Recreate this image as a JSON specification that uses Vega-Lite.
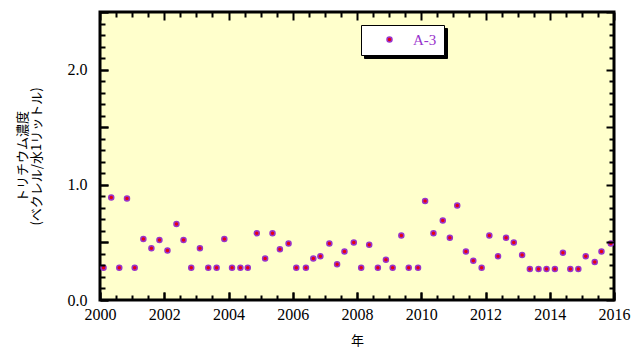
{
  "$schema": "https://vega.github.io/schema/vega-lite/v6.json",
  "width": 514,
  "height": 288,
  "autosize": {"type": "none"},
  "padding": {"left": 100, "top": 12, "right": 18, "bottom": 50},
  "background": "white",
  "config": {
    "view": {"fill": "#ffffcc", "stroke": "black", "strokeWidth": 3}
  },
  "data": {
    "values": [
      {"year": 2000.11, "conc": 0.28}, {"year": 2000.35, "conc": 0.89}, {"year": 2000.60, "conc": 0.28}, {"year": 2000.84, "conc": 0.88},
      {"year": 2001.08, "conc": 0.28}, {"year": 2001.35, "conc": 0.53}, {"year": 2001.60, "conc": 0.45}, {"year": 2001.85, "conc": 0.52},
      {"year": 2002.10, "conc": 0.43}, {"year": 2002.38, "conc": 0.66}, {"year": 2002.60, "conc": 0.52}, {"year": 2002.84, "conc": 0.28},
      {"year": 2003.11, "conc": 0.45}, {"year": 2003.37, "conc": 0.28}, {"year": 2003.63, "conc": 0.28}, {"year": 2003.87, "conc": 0.53},
      {"year": 2004.11, "conc": 0.28}, {"year": 2004.37, "conc": 0.28}, {"year": 2004.60, "conc": 0.28}, {"year": 2004.88, "conc": 0.58},
      {"year": 2005.14, "conc": 0.36}, {"year": 2005.37, "conc": 0.58}, {"year": 2005.60, "conc": 0.44}, {"year": 2005.87, "conc": 0.49},
      {"year": 2006.11, "conc": 0.28}, {"year": 2006.41, "conc": 0.28}, {"year": 2006.64, "conc": 0.36}, {"year": 2006.86, "conc": 0.38},
      {"year": 2007.14, "conc": 0.49}, {"year": 2007.38, "conc": 0.31}, {"year": 2007.61, "conc": 0.42}, {"year": 2007.90, "conc": 0.50},
      {"year": 2008.13, "conc": 0.28}, {"year": 2008.38, "conc": 0.48}, {"year": 2008.65, "conc": 0.28}, {"year": 2008.90, "conc": 0.35},
      {"year": 2009.11, "conc": 0.28}, {"year": 2009.38, "conc": 0.56}, {"year": 2009.61, "conc": 0.28}, {"year": 2009.90, "conc": 0.28},
      {"year": 2010.12, "conc": 0.86}, {"year": 2010.38, "conc": 0.58}, {"year": 2010.67, "conc": 0.69}, {"year": 2010.89, "conc": 0.54},
      {"year": 2011.12, "conc": 0.82}, {"year": 2011.39, "conc": 0.42}, {"year": 2011.62, "conc": 0.34}, {"year": 2011.88, "conc": 0.28},
      {"year": 2012.12, "conc": 0.56}, {"year": 2012.39, "conc": 0.38}, {"year": 2012.64, "conc": 0.54}, {"year": 2012.88, "conc": 0.50},
      {"year": 2013.14, "conc": 0.39}, {"year": 2013.38, "conc": 0.27}, {"year": 2013.65, "conc": 0.27}, {"year": 2013.90, "conc": 0.27},
      {"year": 2014.16, "conc": 0.27}, {"year": 2014.41, "conc": 0.41}, {"year": 2014.64, "conc": 0.27}, {"year": 2014.89, "conc": 0.27},
      {"year": 2015.12, "conc": 0.38}, {"year": 2015.40, "conc": 0.33}, {"year": 2015.61, "conc": 0.42}, {"year": 2015.90, "conc": 0.49}
    ]
  },
  "resolve": {"scale": {"x": "shared", "y": "shared"}, "axis": {"x": "independent", "y": "independent"}},
  "layer": [
    {
      "mark": {"type": "circle", "size": 25, "stroke": "#9933cc", "strokeWidth": 1.5, "opacity": 1},
      "encoding": {
        "x": {
          "field": "year",
          "type": "quantitative",
          "scale": {"domain": [2000, 2016], "nice": false, "zero": false},
          "axis": {
            "orient": "bottom",
            "zindex": 5,
            "values": [2000, 2002, 2004, 2006, 2008, 2010, 2012, 2014, 2016],
            "format": "d",
            "ticks": true,
            "tickSize": -8,
            "tickColor": "black",
            "tickWidth": 2,
            "domain": false,
            "grid": false,
            "labelOverlap": false,
            "labelBound": false,
            "labelFlush": false,
            "labelFont": "Liberation Serif",
            "labelFontSize": 16,
            "labelColor": "black",
            "labelPadding": 14,
            "title": "年",
            "titleFont": "Noto Sans CJK JP",
            "titleFontSize": 13,
            "titleFontWeight": "normal",
            "titleColor": "black",
            "titleBaseline": "middle",
            "titleY": 40
          }
        },
        "y": {
          "field": "conc",
          "type": "quantitative",
          "scale": {"domain": [0, 2.5], "nice": false, "zero": true},
          "axis": {
            "orient": "left",
            "zindex": 5,
            "values": [0, 0.5, 1, 1.5, 2, 2.5],
            "labelExpr": "abs(datum.value - round(datum.value)) < 0.001 && datum.value < 2.4 ? format(datum.value, '.1f') : ''",
            "ticks": true,
            "tickSize": -8,
            "tickColor": "black",
            "tickWidth": 2,
            "domain": false,
            "grid": false,
            "labelOverlap": false,
            "labelBound": false,
            "labelFlush": false,
            "labelFont": "Liberation Serif",
            "labelFontSize": 16,
            "labelColor": "black",
            "labelPadding": 21,
            "title": ["トリチウム濃度", "(ベクレル/水1リットル)"],
            "titleFont": "Noto Sans CJK JP",
            "titleFontSize": 13,
            "titleFontWeight": "normal",
            "titleColor": "black",
            "titleAngle": 270,
            "titleBaseline": "middle",
            "titleAlign": "center",
            "titleLineHeight": 14,
            "titleX": -78,
            "titleY": 144
          }
        },
        "fill": {
          "datum": "A-3",
          "type": "nominal",
          "scale": {"range": ["#e60012"]},
          "legend": {
            "title": null,
            "orient": "none",
            "legendX": 261,
            "legendY": 13,
            "zindex": 7,
            "fillColor": "white",
            "strokeColor": "black",
            "padding": 7,
            "symbolOffset": 14,
            "labelOffset": 16,
            "symbolType": "circle",
            "symbolSize": 25,
            "symbolStrokeColor": "#9933cc",
            "symbolStrokeWidth": 1.5,
            "labelFont": "Liberation Serif",
            "labelFontSize": 15,
            "labelColor": "#9933cc",
            "encode": {"legend": {"update": {"strokeWidth": {"value": 1.5}}}}
          }
        }
      }
    },
    {
      "mark": {"type": "point", "size": 25, "opacity": 0},
      "encoding": {
        "x": {
          "field": "year",
          "type": "quantitative",
          "axis": {
            "orient": "top", "offset": -288, "zindex": 5,
            "values": [2000, 2002, 2004, 2006, 2008, 2010, 2012, 2014, 2016],
            "labels": false, "ticks": true, "tickSize": 8, "tickColor": "black", "tickWidth": 2,
            "domain": false, "grid": false, "title": null
          }
        },
        "y": {
          "field": "conc",
          "type": "quantitative",
          "axis": {
            "orient": "right", "offset": -514, "zindex": 5,
            "values": [0, 0.5, 1, 1.5, 2, 2.5],
            "labels": false, "ticks": true, "tickSize": 8, "tickColor": "black", "tickWidth": 2,
            "domain": false, "grid": false, "title": null
          }
        },
        "shape": {
          "datum": "shadow",
          "type": "nominal",
          "scale": {"range": ["circle"]},
          "legend": {
            "title": null,
            "orient": "none",
            "legendX": 264,
            "legendY": 16,
            "zindex": 6,
            "fillColor": "black",
            "strokeColor": "black",
            "padding": 7,
            "symbolOffset": 14,
            "labelOffset": 16,
            "symbolSize": 25,
            "symbolOpacity": 0,
            "labelExpr": "'A-3'",
            "labelFont": "Liberation Serif",
            "labelFontSize": 15,
            "labelColor": "black",
            "encode": {"legend": {"update": {"strokeWidth": {"value": 1.5}}}}
          }
        }
      }
    },
    {
      "mark": {"type": "point", "size": 25, "opacity": 0},
      "encoding": {
        "x": {
          "field": "year",
          "type": "quantitative",
          "axis": {
            "orient": "top", "offset": -288, "zindex": 5,
            "values": [2000.5, 2001, 2001.5, 2002.5, 2003, 2003.5, 2004.5, 2005, 2005.5, 2006.5, 2007, 2007.5, 2008.5, 2009, 2009.5, 2010.5, 2011, 2011.5, 2012.5, 2013, 2013.5, 2014.5, 2015, 2015.5],
            "labels": false, "ticks": true, "tickSize": 5, "tickColor": "black", "tickWidth": 2,
            "domain": false, "grid": false, "title": null
          }
        },
        "y": {
          "field": "conc",
          "type": "quantitative",
          "axis": {
            "orient": "right", "offset": -514, "zindex": 5,
            "values": [0.1, 0.2, 0.3, 0.4, 0.6, 0.7, 0.8, 0.9, 1.1, 1.2, 1.3, 1.4, 1.6, 1.7, 1.8, 1.9, 2.1, 2.2, 2.3, 2.4],
            "labels": false, "ticks": true, "tickSize": 5, "tickColor": "black", "tickWidth": 2,
            "domain": false, "grid": false, "title": null
          }
        }
      }
    },
    {
      "mark": {"type": "point", "size": 25, "opacity": 0},
      "encoding": {
        "x": {
          "field": "year",
          "type": "quantitative",
          "axis": {
            "orient": "bottom", "offset": -288, "zindex": 5,
            "values": [2000, 2002, 2004, 2006, 2008, 2010, 2012, 2014, 2016],
            "labels": false, "ticks": true, "tickSize": 8, "tickColor": "black", "tickWidth": 2,
            "domain": false, "grid": false, "title": null
          }
        },
        "y": {
          "field": "conc",
          "type": "quantitative",
          "axis": {
            "orient": "left", "offset": -514, "zindex": 5,
            "values": [0, 0.5, 1, 1.5, 2, 2.5],
            "labels": false, "ticks": true, "tickSize": 8, "tickColor": "black", "tickWidth": 2,
            "domain": false, "grid": false, "title": null
          }
        }
      }
    },
    {
      "mark": {"type": "point", "size": 25, "opacity": 0},
      "encoding": {
        "x": {
          "field": "year",
          "type": "quantitative",
          "axis": {
            "orient": "bottom", "offset": -288, "zindex": 5,
            "values": [2000.5, 2001, 2001.5, 2002.5, 2003, 2003.5, 2004.5, 2005, 2005.5, 2006.5, 2007, 2007.5, 2008.5, 2009, 2009.5, 2010.5, 2011, 2011.5, 2012.5, 2013, 2013.5, 2014.5, 2015, 2015.5],
            "labels": false, "ticks": true, "tickSize": 5, "tickColor": "black", "tickWidth": 2,
            "domain": false, "grid": false, "title": null
          }
        },
        "y": {
          "field": "conc",
          "type": "quantitative",
          "axis": {
            "orient": "left", "offset": -514, "zindex": 5,
            "values": [0.1, 0.2, 0.3, 0.4, 0.6, 0.7, 0.8, 0.9, 1.1, 1.2, 1.3, 1.4, 1.6, 1.7, 1.8, 1.9, 2.1, 2.2, 2.3, 2.4],
            "labels": false, "ticks": true, "tickSize": 5, "tickColor": "black", "tickWidth": 2,
            "domain": false, "grid": false, "title": null
          }
        }
      }
    }
  ]
}
